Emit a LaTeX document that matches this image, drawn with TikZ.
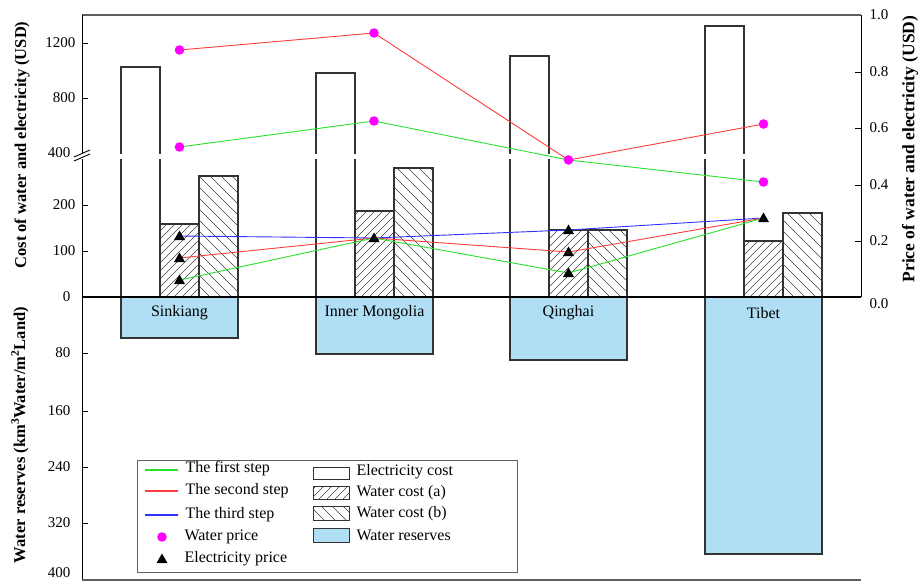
\documentclass[tikz,border=0pt]{standalone}
\usepackage{fontspec}
\setmainfont{Liberation Serif}
\definecolor{wblue}{RGB}{176,222,245}
\definecolor{sgreen}{RGB}{40,225,40}
\definecolor{sred}{RGB}{255,60,60}
\definecolor{sblue}{RGB}{50,50,255}
\definecolor{wmag}{RGB}{255,0,255}
\definecolor{frameg}{RGB}{95,95,95}
\newcommand\fs{\fontsize{16}{19}\selectfont}
\newcommand\ft{\fontsize{15}{18}\selectfont}
\newcommand\hatchA[4]{\begin{scope}\clip ({#1},{#2}) rectangle ({#3},{#4});\foreach \k in {0,8,...,330}{\draw[hatchl] ({#1-170+\k},{#4}) -- ++(170,-170);}\end{scope}}
\newcommand\hatchB[4]{\begin{scope}\clip ({#1},{#2}) rectangle ({#3},{#4});\foreach \k in {0,11,...,220}{\draw[hatchl] ({#1+\k},{#4}) -- ++(-170,-170);}\end{scope}}
\newcommand\bargroup[7]{%
  \fill[white] ({#1},{#2}) rectangle ({#1+39},297);
  \hatchA{#1+39}{#3}{#1+78}{297}
  \hatchB{#1+78}{#4}{#1+117}{297}
  \draw[barline] ({#1},297) rectangle ({#1+39},{#2});
  \draw[barline] ({#1+39},297) rectangle ({#1+78},{#3});
  \draw[barline] ({#1+78},297) rectangle ({#1+117},{#4});
  \fill[white] ({#1-1.5},153.5) rectangle ({#1+40.5},158.5);
  \draw[barline, fill=wblue] ({#1},297) rectangle ({#1+117},{#5});
  \node[font=\fs] (#7) at ({#1+58.5},313) {#6};
}
\newcommand\wdot[1]{\fill[wmag] (#1) circle[radius=4.8pt];}
\newcommand\etri[1]{\fill[black] (#1) ++(0,-5.5) -- ++(5.5,9.5) -- ++(-11,0) -- cycle;}
\begin{document}
\begin{tikzpicture}[x=1pt,y=-1pt,
  barline/.style={draw=black!80, line width=1.1pt},
  hatchl/.style={draw=black!75, line width=0.55pt},
  ser/.style={line width=0.9pt},
  tk/.style={line width=0.9pt}]
\useasboundingbox (0,0) rectangle (919,582);
\fill[white] (0,0) rectangle (919,582);

% bars
\bargroup{121}{67}{224}{176}{338}{Sinkiang}{g1}
\bargroup{316}{73}{211}{168}{354}{Inner Mongolia}{g2}
\bargroup{510}{56}{230}{230}{360}{Qinghai}{g3}
\bargroup{705}{26}{241}{213}{554}{Tibet}{g4}

% axes and frame
\draw[frameg, line width=1.6pt] (82,15) -- (861,15);
\draw[line width=1pt] (82,15) -- (82,580);
\draw[line width=1pt] (861,15) -- (861,297);
\draw[line width=1.1pt] (82,297) -- (861,297);
\draw[frameg, line width=1.3pt] (82,580) -- (861,580);

% left ticks
\foreach \y in {43,98,205,251,353,411,467,523} \draw[tk] (82,\y) -- (88,\y);
\foreach \y/\t in {43/1200,98/800,205/200,251/100} \node[font=\ft, anchor=east] (lt\t) at (79,\y) {\t};
\node[font=\ft, anchor=east] (lt400) at (74,153) {400};
\foreach \y/\t in {297/0,353/80,411/160,467/240,523/320} \node[font=\ft, anchor=east] (lb\t) at (74,\y) {\t};
\node[font=\ft, anchor=east] (lb400) at (74,573) {400};
% break marks
\fill[white] (80,152.5) rectangle (84,158.5);
\draw[line width=0.9pt] (74,157) -- (90,150);
\draw[line width=0.9pt] (74,161) -- (90,154);

% right ticks
\foreach \y in {72,128,185,241} \draw[tk] (855,\y) -- (861,\y);
\foreach \y/\t in {15/1.0,72/0.8,128/0.6,185/0.4,241/0.2} \node[font=\ft, anchor=west] at (866,\y) {\t};
\node[font=\ft, anchor=west] (rt0) at (866,304) {0.0};

% axis titles
\node[font=\fontsize{16.5}{19}\selectfont\bfseries, rotate=90] (ttl1) at (22,145) {Cost of water and electricity (USD)};
\node[font=\fontsize{16.5}{19}\selectfont\bfseries, rotate=90] (ttl2) at (20,435) {Water reserves (km\textsuperscript{3}Water/m\textsuperscript{2}Land)};
\node[font=\fontsize{17.5}{19}\selectfont\bfseries, rotate=90] (ttl3) at (910,149) {Price of water and electricity (USD)};

% series coordinates
\coordinate (WR1) at (179.5,50);  \coordinate (WR2) at (374,33);
\coordinate (WR3) at (568.5,160); \coordinate (WR4) at (763.5,124);
\coordinate (WG1) at (179.5,147); \coordinate (WG2) at (374,121);
\coordinate (WG4) at (763.5,182);
\coordinate (EB1) at (179.5,236); \coordinate (EB2) at (374,238);
\coordinate (EB3) at (568.5,230); \coordinate (E4) at (763.5,218);
\coordinate (ER1) at (179.5,258); \coordinate (ER3) at (568.5,252);
\coordinate (EG1) at (179.5,280); \coordinate (EG3) at (568.5,273);

\draw[ser, sred] (WR1) -- (WR2) -- (WR3) -- (WR4);
\draw[ser, sgreen] (WG1) -- (WG2) -- (WR3) -- (WG4);
\draw[ser, sblue] (EB1) -- (EB2) -- (EB3) -- (E4);
\draw[ser, sred] (ER1) -- (EB2) -- (ER3) -- (E4);
\draw[ser, sgreen] (EG1) -- (EB2) -- (EG3) -- (E4);

\foreach \p in {WR1,WR2,WR3,WR4,WG1,WG2,WG4} {\wdot{\p}}
\foreach \p in {EB1,EB2,EB3,E4,ER1,ER3,EG1,EG3} {\etri{\p}}

% legend
\draw[frameg, line width=0.9pt, fill=white] (137,460) rectangle (517,572);
\coordinate (l1a) at (145,470); \coordinate (l1b) at (178,470);
\coordinate (l2a) at (145,491); \coordinate (l2b) at (178,491);
\coordinate (l3a) at (145,515); \coordinate (l3b) at (178,515);
\draw[line width=1.2pt, sgreen] (l1a) -- (l1b);
\draw[line width=1.2pt, sred] (l2a) -- (l2b);
\draw[line width=1.2pt, sblue] (l3a) -- (l3b);
\node[font=\fs, anchor=west] (lg1) at (182,469) {The first step};
\node[font=\fs, anchor=west] (lg2) at (182,491) {The second step};
\node[font=\fs, anchor=west] (lg3) at (182,515) {The third step};
\coordinate (lwp) at (162,537);
\coordinate (lep) at (162,559);
\wdot{lwp}
\etri{lep}
\node[font=\fs, anchor=west] (lg4) at (181,537) {Water price};
\node[font=\fs, anchor=west] (lg5) at (181,559) {Electricity price};

\fill[white] (313,467) rectangle (349,479);
\hatchA{313}{486}{349}{499}
\hatchB{313}{506}{349}{520}
\draw[barline, line width=0.9pt] (313,467) rectangle (349,479);
\draw[barline, line width=0.9pt] (313,486) rectangle (349,499);
\draw[barline, line width=0.9pt] (313,506) rectangle (349,520);
\draw[barline, line width=0.9pt, fill=wblue] (313,528) rectangle (349,542);
\node[font=\fs, anchor=west] (lg6) at (353,472) {Electricity cost};
\node[font=\fs, anchor=west] (lg7) at (353,493) {Water cost (a)};
\node[font=\fs, anchor=west] (lg8) at (353,514) {Water cost (b)};
\node[font=\fs, anchor=west] (lg9) at (353,535) {Water reserves};
\end{tikzpicture}
\end{document}
